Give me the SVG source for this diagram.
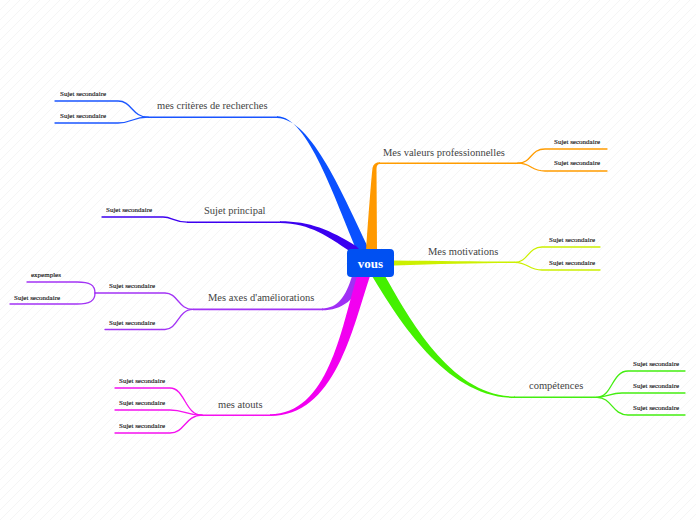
<svg xmlns="http://www.w3.org/2000/svg" width="696" height="520" viewBox="0 0 696 520" font-family="Liberation Serif, Times New Roman, serif">
<defs>
<pattern id="bg" patternUnits="userSpaceOnUse" width="10" height="10">
<path d="M-1 1 L1 -1 M0 10 L10 0 M9 11 L11 9" stroke="#f0f0f0" stroke-width="0.7"/>
</pattern>
</defs>
<style>
.main{font-family:'Liberation Serif',serif;font-size:10.5px;fill:#444}
.sub{font-family:'Liberation Serif',serif;font-size:7px;fill:#1a1a1a;stroke:#1a1a1a;stroke-width:0.15}
.ln{fill:none;stroke-width:1.3;stroke-linecap:round}
.mln{fill:none;stroke-width:1.6}
.blue{stroke:#1a55ff}.orange{stroke:#ff9c00}.indigo{stroke:#3d00f0}.violet{stroke:#a233f5}
.magenta{stroke:#f511f0}.lime{stroke:#ccf000}.green{stroke:#44ee11}
</style>
<rect width="696" height="520" fill="#ffffff"/>
<rect width="696" height="520" fill="url(#bg)"/>

<g id="connectors">
<path d="M357 251 C335 200 308 116.3 277 116.3 L277 118 C312 118.5 344 198 370 251 Z" fill="#0a50ff"/>
<path d="M366 251 C368.5 215 371 182 372.5 168 Q373.5 162.3 380 162.3 L380 164 Q376.5 164 376.5 169 L377 251 Z" fill="#ff9900"/>
<path d="M280 221.3 C310 221.3 330 230 356 246 L360 250 L348 250 C330 238 310 223 280 223 Z" fill="#3a00f0"/>
<path d="M322 308.4 C338 308.4 346 296 352 276 L364 276 C356 300 342 310.3 322 310.3 Z" fill="#a030f5"/>
<path d="M270 414.2 C328 414.2 341 330 357 276 L370 276 C352 330 335 416 270 416 Z" fill="#f200f0"/>
<path d="M394 260.5 C440 261 480 261.5 515 261.5 L515 263 C480 263 440 264 394 265.5 Z" fill="#ccf000"/>
<path d="M372 276 C400 322 447 398 515 398 L515 396.5 C452 396.5 410 320 385 276 Z" fill="#44f000"/>

<path class="mln blue" d="M278 117.2 L148 117.2"/>
<path class="ln blue" d="M148 117.2 C132 117.2 132 101 118 101 L55 101"/>
<path class="ln blue" d="M148 117.2 C132 117.2 132 123 118 123 L55 123"/>

<path class="mln orange" d="M379 163.2 L518 163.2"/>
<path class="ln orange" d="M518 163.2 C532 163.2 530 149 545 149 L607 149"/>
<path class="ln orange" d="M518 163.2 C532 163.2 530 171 545 171 L607 171"/>

<path class="mln indigo" d="M281 222.2 L187 222.2"/>
<path class="ln indigo" d="M187 222.2 C175 222.2 172 217 163 217 L102 217"/>

<path class="mln violet" d="M323 309.4 L193 309.4"/>
<path class="ln violet" d="M193 309.4 C178 309.4 178 293 165 293 L95 293"/>
<path class="ln violet" d="M95 293 C95 285 90 282 77 282 L27 282"/>
<path class="ln violet" d="M95 293 C95 301 90 304 77 304 L10 304"/>
<path class="ln violet" d="M193 309.4 C178 309.4 178 329.5 165 329.5 L105 329.5"/>

<path class="mln magenta" d="M271 415.2 L202 415.2"/>
<path class="ln magenta" d="M202 415.2 C185 415.2 185 388 170 388 L115 388"/>
<path class="ln magenta" d="M202 415.2 C185 415.2 185 410 170 410 L115 410"/>
<path class="ln magenta" d="M202 415.2 C185 415.2 185 433 170 433 L115 433"/>

<path class="ln lime" d="M515 262.3 C528 262.3 528 247 542 247 L600 247"/>
<path class="ln lime" d="M515 262.3 C528 262.3 528 270 542 270 L600 270"/>

<path class="mln green" d="M514 397.3 L597 397.3"/>
<path class="ln green" d="M597 397.3 C612 397.3 612 371 628 371 L685 371"/>
<path class="ln green" d="M597 397.3 C608 397.3 610 393 622 393 L685 393"/>
<path class="ln green" d="M597 397.3 C612 397.3 612 415 628 415 L685 415"/>
</g>

<g id="center">
<rect x="347" y="249" width="47" height="28" rx="4" fill="#0050f2"/>
<text x="370.5" y="267.5" text-anchor="middle" font-family="Liberation Serif, Times New Roman, serif" font-size="13" font-weight="bold" fill="#ffffff">vous</text>
</g>

<g id="n-criteres">
<text class="main" x="157" y="109">mes critères de recherches</text>
<text class="sub" x="60" y="96">Sujet secondaire</text>
<text class="sub" x="60" y="118">Sujet secondaire</text>
</g>
<g id="n-valeurs">
<text class="main" x="383" y="156">Mes valeurs professionnelles</text>
<text class="sub" x="554" y="143.5">Sujet secondaire</text>
<text class="sub" x="554" y="165">Sujet secondaire</text>
</g>
<g id="n-principal">
<text class="main" x="204" y="213.5">Sujet principal</text>
<text class="sub" x="106" y="211.5">Sujet secondaire</text>
</g>
<g id="n-axes">
<text class="main" x="208" y="300.5">Mes axes d'améliorations</text>
<text class="sub" x="109" y="287.5">Sujet secondaire</text>
<text class="sub" x="31" y="276.5">expemples</text>
<text class="sub" x="14" y="299.5">Sujet secondaire</text>
<text class="sub" x="109" y="324.5">Sujet secondaire</text>
</g>
<g id="n-atouts">
<text class="main" x="218" y="407.5">mes atouts</text>
<text class="sub" x="119" y="382.5">Sujet secondaire</text>
<text class="sub" x="119" y="404.5">Sujet secondaire</text>
<text class="sub" x="119" y="427.5">Sujet secondaire</text>
</g>
<g id="n-motivations">
<text class="main" x="428" y="254.5">Mes motivations</text>
<text class="sub" x="549" y="241.5">Sujet secondaire</text>
<text class="sub" x="549" y="264.5">Sujet secondaire</text>
</g>
<g id="n-competences">
<text class="main" x="529" y="388.5">compétences</text>
<text class="sub" x="633" y="366">Sujet secondaire</text>
<text class="sub" x="633" y="387.5">Sujet secondaire</text>
<text class="sub" x="633" y="409.5">Sujet secondaire</text>
</g>
</svg>
